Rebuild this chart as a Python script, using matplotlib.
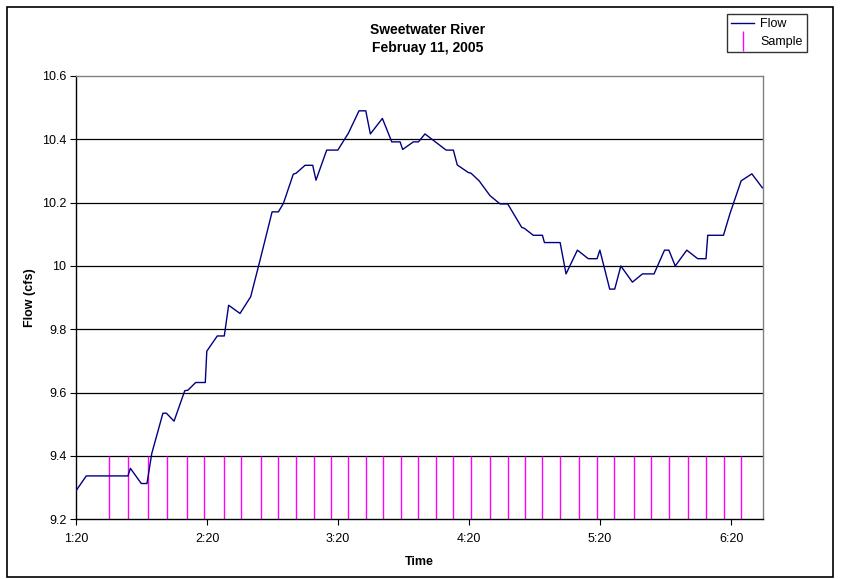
"""Sweetwater River flow with sample times (Excel-style line chart)."""
import matplotlib
matplotlib.use("Agg")
import matplotlib.pyplot as plt
from matplotlib.lines import Line2D
from matplotlib.patches import Rectangle

plt.rcParams["font.family"] = ["Liberation Sans", "DejaVu Sans"]

# minutes after 1:20
flow_minutes = [0, 4.7, 23.8, 24.9, 29.9, 32.5, 34.7, 39.8, 41.4, 44.9, 49.8, 51.3,
                54.8, 59.2, 59.9, 64.7, 67.9, 69.9, 75.1, 80.0, 84.3, 89.8, 92.7, 95.0,
                99.5, 100.8, 104.9, 108.4, 109.9, 114.8, 119.9, 124.7, 129.6, 132.7,
                134.8, 140.3, 144.6, 148.4, 149.6, 154.5, 156.8, 159.8, 169.5, 172.8,
                174.6, 179.7, 180.9, 184.6, 189.6, 194.2, 197.7, 204.1, 205.3, 209.4,
                213.6, 214.5, 221.7, 224.4, 229.6, 234.6, 238.6, 239.9, 244.4, 246.7,
                249.5, 254.8, 259.4, 264.7, 269.5, 271.5, 274.4, 279.7, 284.7, 288.5,
                289.3, 296.5, 299.5, 304.6, 309.5, 314.3]
flow_cfs = [9.29, 9.337, 9.337, 9.361, 9.313, 9.313, 9.408, 9.535, 9.535, 9.510, 9.606,
            9.608, 9.632, 9.632, 9.731, 9.779, 9.779, 9.876, 9.850, 9.903, 10.019, 10.171,
            10.171, 10.198, 10.290, 10.293, 10.318, 10.318, 10.271, 10.366, 10.366,
            10.419, 10.490, 10.490, 10.417, 10.466, 10.392, 10.392, 10.368, 10.392,
            10.392, 10.417, 10.366, 10.366, 10.319, 10.295, 10.293, 10.269, 10.222,
            10.196, 10.196, 10.122, 10.119, 10.097, 10.097, 10.074, 10.074, 9.975,
            10.050, 10.023, 10.023, 10.050, 9.927, 9.927, 10.000, 9.949, 9.975, 9.975,
            10.050, 10.050, 10.000, 10.050, 10.023, 10.023, 10.097, 10.097, 10.166,
            10.269, 10.291, 10.247]

sample_minutes = [15, 24, 33, 41.5, 50.7, 58.8, 67.7, 75.7, 84.7, 92.6, 100.7, 109,
                  116.8, 124.7, 132.8, 140.7, 148.7, 156.8, 164.9, 172.8, 180.8, 189.6,
                  197.7, 205.5, 213.6, 221.7, 230.5, 238.6, 246.5, 255.6, 263.5, 271.6,
                  280.4, 288.5, 296.6, 304.7]
sample_low, sample_high = 9.2, 9.4

x_ticks = [0, 60, 120, 180, 240, 300]
x_labels = ["1:20", "2:20", "3:20", "4:20", "5:20", "6:20"]
y_ticks = [9.2, 9.4, 9.6, 9.8, 10.0, 10.2, 10.4, 10.6]
y_labels = ["9.2", "9.4", "9.6", "9.8", "10", "10.2", "10.4", "10.6"]

W, H = 842, 579
fig = plt.figure(figsize=(W / 100, H / 100), dpi=100)
ax = fig.add_axes([76 / W, 1 - 519.3 / H, (763 - 76) / W, (519.3 - 76) / H])

for yv in y_ticks[1:-1]:
    ax.axhline(yv, color="black", lw=0.9, zorder=1)

ax.vlines(sample_minutes, sample_low, sample_high, color="#FF00FF", lw=1.0, zorder=2)
ax.plot(flow_minutes, flow_cfs, color="#000080", lw=1.0, zorder=3)

ax.set_xlim(0, 314.6)
ax.set_ylim(9.2, 10.6)
ax.set_xticks(x_ticks)
ax.set_xticklabels(x_labels)
ax.set_yticks(y_ticks)
ax.set_yticklabels(y_labels)
ax.tick_params(axis="both", direction="out", length=4, width=0.8, labelsize=9,
               colors="black", pad=3)
ax.tick_params(axis="x", pad=6)

for side in ("left", "bottom"):
    ax.spines[side].set_color("black")
    ax.spines[side].set_linewidth(1.0)
for side in ("top", "right"):
    ax.spines[side].set_color("#808080")
    ax.spines[side].set_linewidth(1.0)

ax.set_xlabel("Time", fontsize=9, fontweight="bold", labelpad=8)
ax.set_ylabel("Flow (cfs)", fontsize=9, fontweight="bold", labelpad=4)

fig.text(428 / W, 1 - 30 / H, "Sweetwater River", ha="center", va="center",
         fontsize=10, fontweight="bold")
fig.text(428 / W, 1 - 48 / H, "Februay 11, 2005", ha="center", va="center",
         fontsize=10, fontweight="bold")

handles = [Line2D([0], [0], color="#000080", lw=1.0),
           Line2D([0], [0], color="#FF00FF", lw=0, marker="|", markersize=15,
                  markeredgewidth=1.0)]
leg = fig.legend(handles, ["Flow", "Sample"], loc="upper left",
                 bbox_to_anchor=(727 / W, 1 - 14 / H), fontsize=9,
                 frameon=True, fancybox=False, edgecolor="black",
                 handlelength=1.8, handletextpad=0.5, borderpad=0.35,
                 labelspacing=0.45, borderaxespad=0)
leg.get_frame().set_linewidth(1.0)

fig.patches.append(Rectangle((7 / W, 2 / H), (833 - 7) / W, (577 - 7) / H,
                             transform=fig.transFigure, fill=False,
                             edgecolor="black", lw=1.2))

fig.savefig("out.png", dpi=100)
